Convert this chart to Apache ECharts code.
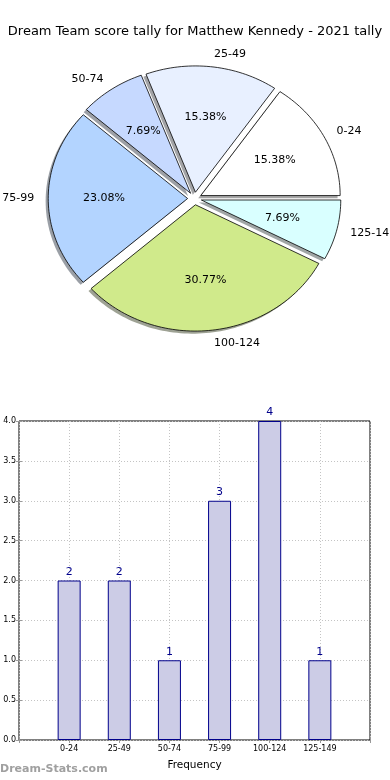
<!DOCTYPE html>
<html>
<head>
<meta charset="utf-8">
<script src="https://cdn.jsdelivr.net/npm/echarts@6/dist/echarts.min.js"></script>
<style>
html,body{margin:0;padding:0;background:#fff;}
#chart{width:390px;height:780px;}
</style>
</head>
<body>
<div id="chart"></div>
<script>
const titleText = 'Dream Team score tally for Matthew Kennedy - 2021 tally';
const categories = ['0-24', '25-49', '50-74', '75-99', '100-124', '125-149'];
const counts = [2, 2, 1, 3, 4, 1];
const pieColors = ['#ffffff', '#e8f0ff', '#c6d9ff', '#b3d4ff', '#d0ea8b', '#d9ffff'];
const yTickMax = 4;
const yTickStep = 0.5;

const FONT = 'DejaVu Sans';
const PIE = { cx: 194.6, cy: 198.5, rx: 139.4, ry: 126.3, explode: 0.05, labelDist: 1.1, pctDist: 0.6, shadowDx: -2.6, shadowDy: 2.6 };
const total = counts.reduce((a, b) => a + b, 0);

function shade(hex) {
  const r = parseInt(hex.slice(1, 3), 16), g = parseInt(hex.slice(3, 5), 16), b = parseInt(hex.slice(5, 7), 16);
  return 'rgba(' + Math.round(r * 0.3) + ',' + Math.round(g * 0.3) + ',' + Math.round(b * 0.3) + ',0.5)';
}

function renderSlice(params, api) {
  const i = params.dataIndex;
  const v = api.value(1);
  let before = 0;
  for (let k = 0; k < i; k++) before += counts[k];
  const t1 = before / total * 360, t2 = (before + v) / total * 360;
  const tm = (t1 + t2) / 2 * Math.PI / 180;
  const cx = PIE.cx + PIE.explode * PIE.rx * Math.cos(tm);
  const cy = PIE.cy - PIE.explode * PIE.ry * Math.sin(tm);
  const pts = [[cx, cy]];
  const n = Math.max(10, Math.ceil((t2 - t1) / 1.5));
  for (let s = 0; s <= n; s++) {
    const a = (t1 + (t2 - t1) * s / n) * Math.PI / 180;
    pts.push([cx + PIE.rx * Math.cos(a), cy - PIE.ry * Math.sin(a)]);
  }
  const spts = pts.map(p => [p[0] + PIE.shadowDx, p[1] + PIE.shadowDy]);
  const lx = cx + PIE.labelDist * PIE.rx * Math.cos(tm);
  const ly = cy - PIE.labelDist * PIE.ry * Math.sin(tm);
  const px = cx + PIE.pctDist * PIE.rx * Math.cos(tm);
  const py = cy - PIE.pctDist * PIE.ry * Math.sin(tm);
  const pct = (v / total * 100).toFixed(2) + '%';
  return {
    type: 'group',
    children: [
      { type: 'polygon', shape: { points: spts }, style: { fill: shade(pieColors[i]), stroke: null } },
      { type: 'polygon', shape: { points: pts }, style: { fill: pieColors[i], stroke: '#000', lineWidth: 0.8 } },
      { type: 'text', style: { text: categories[i], x: lx, y: ly, fill: '#000', fontSize: 11, fontFamily: FONT,
          align: Math.cos(tm) > 0 ? 'left' : 'right', verticalAlign: 'middle' } },
      { type: 'text', style: { text: pct, x: px, y: py, fill: '#000', fontSize: 11, fontFamily: FONT,
          align: 'center', verticalAlign: 'middle' } }
    ]
  };
}

const chart = echarts.init(document.getElementById('chart'), null, { renderer: 'canvas' });
const gridLine = { show: true, lineStyle: { type: [1, 2], color: '#c4c4c4', width: 1 } };
const option = {
  backgroundColor: '#fff',
  animation: false,
  title: {
    text: titleText, left: 'center', top: 20,
    textStyle: { fontSize: 13, fontWeight: 'normal', color: '#000', fontFamily: FONT }
  },
  graphic: [{
    type: 'text', left: 0, top: 764,
    style: { text: 'Dream-Stats.com', fill: '#a0a0a0', fontSize: 11, fontWeight: 'bold', fontFamily: FONT }
  }],
  grid: { left: 19, right: 20, top: 421, bottom: 40, show: true, borderColor: '#000', borderWidth: 1, backgroundColor: 'transparent' },
  xAxis: [{
    type: 'value', min: 0, max: categories.length + 1, interval: 1,
    name: 'Frequency', nameLocation: 'middle', nameGap: 20,
    nameTextStyle: { fontSize: 10.5, color: '#000', fontFamily: FONT },
    axisLine: { show: false },
    axisTick: { show: true, inside: true, length: 3, lineStyle: { color: '#999' } },
    axisLabel: { fontSize: 8, color: '#000', fontFamily: FONT, margin: 5,
      formatter: v => (v >= 1 && v <= categories.length) ? categories[v - 1] : '' },
    splitLine: gridLine
  }, {
    type: 'value', position: 'top', min: 0, max: categories.length + 1, interval: 1,
    axisLine: { show: false }, axisLabel: { show: false }, splitLine: { show: false },
    axisTick: { show: true, inside: true, length: 3, lineStyle: { color: '#999' } }
  }],
  yAxis: [{
    type: 'value', min: 0, max: yTickMax, interval: yTickStep,
    axisLine: { show: false },
    axisTick: { show: true, inside: true, length: 3, lineStyle: { color: '#999' } },
    axisLabel: { fontSize: 8, color: '#000', fontFamily: FONT, margin: 3, formatter: v => v.toFixed(1) },
    splitLine: gridLine
  }, {
    type: 'value', position: 'right', min: 0, max: yTickMax, interval: yTickStep,
    axisLine: { show: false }, axisLabel: { show: false }, splitLine: { show: false },
    axisTick: { show: true, inside: true, length: 3, lineStyle: { color: '#999' } }
  }],
  series: [{
    type: 'custom',
    coordinateSystem: 'none',
    renderItem: renderSlice,
    data: counts.map((v, i) => [i, v]),
    silent: true
  }, {
    type: 'bar',
    xAxisIndex: 0, yAxisIndex: 0,
    barWidth: 23,
    data: counts.map((v, i) => [i + 1, v]),
    itemStyle: { color: '#ccccE6', borderColor: '#00008b', borderWidth: 1 },
    label: { show: true, position: 'top', distance: 3, color: '#00008b', fontSize: 11, fontFamily: FONT,
      formatter: p => String(p.value[1]) },
    z: 1
  }]
};
chart.setOption(option);
</script>
</body>
</html>
